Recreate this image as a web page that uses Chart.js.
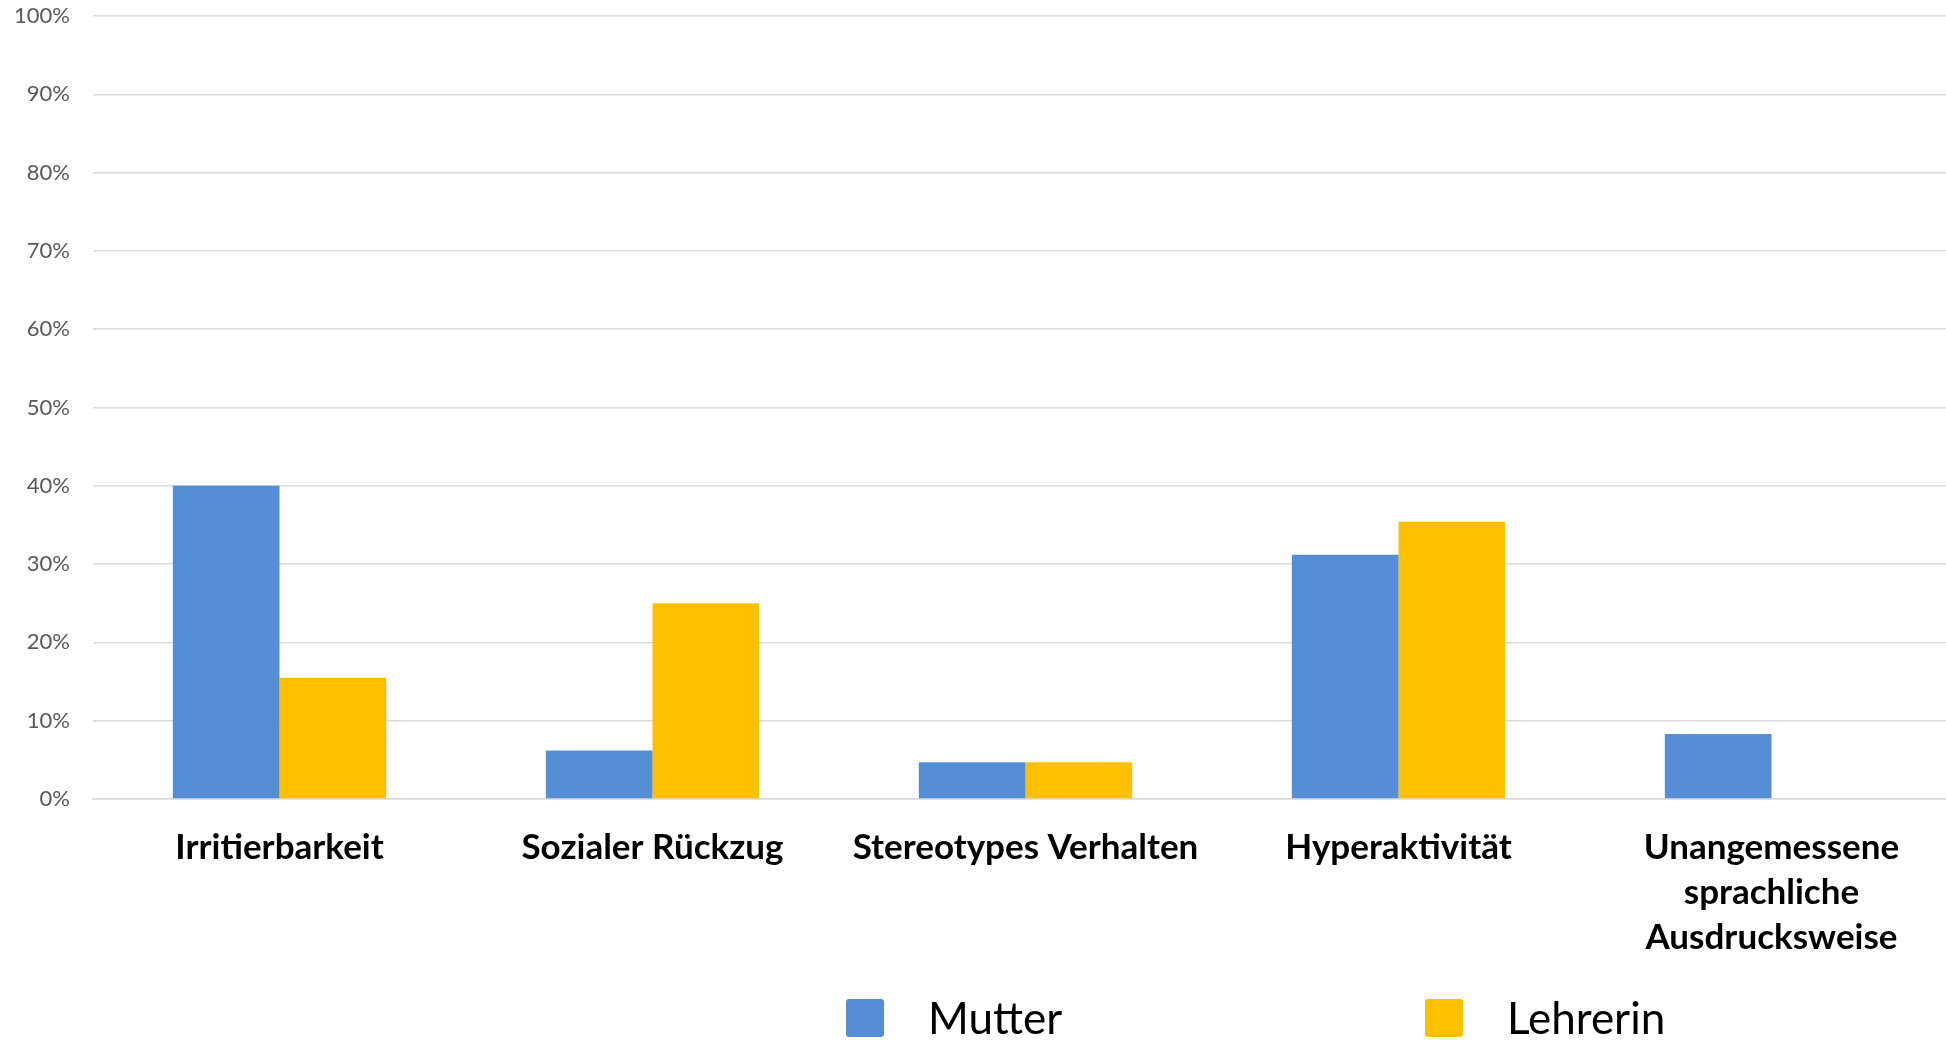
<!DOCTYPE html>
<html>
<head>
<meta charset="utf-8">
<script src="https://cdn.jsdelivr.net/npm/chart.js@4.4.0/dist/chart.umd.min.js"></script>
<style>
  html, body { margin: 0; padding: 0; background: #fff; overflow: hidden; }
  /* a bit wider than the window: the plot runs past the right edge in the original */
  #wrap { width: 1958px; height: 1040px; position: relative; }
</style>
</head>
<body>
<div id="wrap"><canvas id="myChart"></canvas></div>
<script>
const categories = ['Irritierbarkeit', 'Sozialer Rückzug', 'Stereotypes Verhalten', 'Hyperaktivität', ['Unangemessene', 'sprachliche', 'Ausdrucksweise']];
const seriesNames = ['Mutter', 'Lehrerin'];
const mutterValues = [40, 6.2, 4.7, 31.2, 8.3];
const lehrerinValues = [15.5, 25, 4.7, 35.4, 0];
const yTicks = [0, 10, 20, 30, 40, 50, 60, 70, 80, 90, 100];
const colors = ['#558ED5', '#FFC000'];

// legend drawn under the axis labels, like in the original
const legendBelow = {
  id: 'legendBelow',
  afterDraw(chart) {
    const c = chart.ctx;
    const startX = 846, step = 579, top = 999, box = 38;
    c.save();
    c.font = '44px Lato';
    c.textBaseline = 'middle';
    chart.data.datasets.forEach((ds, i) => {
      const x = startX + i * step;
      c.fillStyle = ds.backgroundColor;
      c.beginPath();
      c.roundRect(x, top, box, box, 3);
      c.fill();
      c.fillStyle = '#000';
      c.fillText(ds.label, x + 82, top + box / 2 + 2);
    });
    c.restore();
  }
};

const ctx = document.getElementById('myChart').getContext('2d');
const data = {
  labels: categories,
  datasets: [
    { label: seriesNames[0], data: mutterValues, backgroundColor: colors[0] },
    { label: seriesNames[1], data: lehrerinValues, backgroundColor: colors[1] }
  ]
};

const config = {
  type: 'bar',
  data: data,
  options: {
    responsive: true,
    maintainAspectRatio: false,
    animation: false,
    layout: { padding: { top: 16, right: 0, bottom: 78, left: 0 } },
    datasets: { bar: { barPercentage: 1, categoryPercentage: 0.572 } },
    plugins: {
      legend: { display: false },
      tooltip: { enabled: false }
    },
    scales: {
      x: {
        afterFit: axis => { axis.height = 163; },
        grid: { display: false, drawTicks: false },
        border: { display: true, color: '#d9d9d9', width: 1.5 },
        ticks: {
          color: '#000',
          padding: 26,
          maxRotation: 0,
          autoSkip: false,
          font: { family: 'Lato', size: 35, weight: 'bold', lineHeight: 1.29 }
        }
      },
      y: {
        min: 0,
        max: 100,
        afterBuildTicks: axis => { axis.ticks = yTicks.map(v => ({ value: v })); },
        afterFit: axis => { axis.width = 93; axis.paddingTop = 0; axis.paddingBottom = 0; },
        grid: { color: '#d9d9d9', lineWidth: 1.5, drawTicks: false },
        border: { display: false },
        ticks: {
          color: '#595959',
          padding: 23,
          font: { family: 'Lato', size: 22 },
          callback: v => v + '%'
        }
      }
    }
  },
  plugins: [legendBelow]
};

Chart.defaults.color = '#595959';
const barsChart = new Chart(ctx, config);
</script>
</body>
</html>
